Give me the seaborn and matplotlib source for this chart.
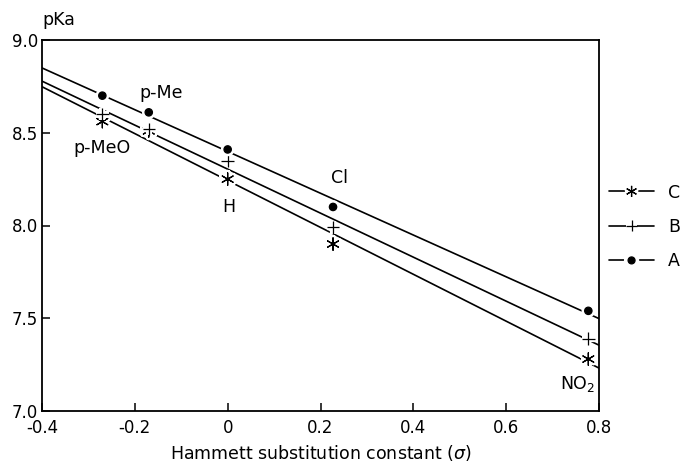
import matplotlib
matplotlib.use('Agg')
import pandas as pd
import matplotlib.pyplot as plt
import matplotlib.patheffects as pe
from matplotlib.lines import Line2D
from matplotlib.legend_handler import HandlerTuple
import seaborn as sns

#-------------------------------------------------------------------------

# Hammett sigma of the substituents and pKa values of the three series
sigma = [-0.27, -0.17, 0.0, 0.227, 0.777]
pka_a = [8.70, 8.61, 8.41, 8.10, 7.54]
pka_b = [8.60, 8.52, 8.35, 7.99, 7.39]
pka_c = [8.56, 8.51, 8.25, 7.90, 7.28]

substituents = ['p-MeO', 'p-Me', 'H', 'Cl', 'NO$_2$']
series_names = ['C', 'B', 'A']

xticks = [-0.4, -0.2, 0.0, 0.2, 0.4, 0.6, 0.8]
xtick_labels = ['-0.4', '-0.2', '0', '0.2', '0.4', '0.6', '0.8']
yticks = [7.0, 7.5, 8.0, 8.5, 9.0]
ytick_labels = ['7.0', '7.5', '8.0', '8.5', '9.0']

#-------------------------------------------------------------------------

def main():

    sns.set_style('ticks')
    plt.rcParams['font.family'] = ['DejaVu Sans']
    plt.rcParams['text.color'] = 'black'
    plt.rcParams['axes.labelcolor'] = 'black'

    data = pd.DataFrame({
        'sigma': sigma * 3,
        'pKa': pka_c + pka_b + pka_a,
        'series': [s for s in series_names for _ in sigma],
    })

    markers = {'C': (6, 2, 0), 'B': '+', 'A': 'o'}
    sizes = {'C': 80, 'B': 80, 'A': 28}
    halo = [pe.withStroke(linewidth=4.5, foreground='white')]

    fig = plt.figure(figsize=(6.8, 4.66), dpi=100)
    ax = fig.add_axes([42 / 680, 1 - 411 / 466, 557 / 680, 371 / 466])

    # limits first, so the fitted lines run across the whole box
    ax.set_xlim(-0.4, 0.8)
    ax.set_ylim(7.0, 9.0)

    for name in series_names:
        sub = data[data['series'] == name]
        sns.regplot(data=sub, x='sigma', y='pKa', ax=ax, ci=None, truncate=False,
                    scatter=False, line_kws=dict(color='black', lw=1.2, zorder=2))
        sns.scatterplot(data=sub, x='sigma', y='pKa', ax=ax, marker=markers[name],
                        s=sizes[name], color='black', edgecolor='black',
                        linewidth=0.9, zorder=3, legend=False, path_effects=halo)

    # substituent labels, anchored on a point of one series
    anchors = [pka_c, pka_a, pka_c, pka_a, pka_c]
    offsets = [(0, -19), (9, 14), (1, -20), (5, 21), (-8, -18)]
    for i, text in enumerate(substituents):
        ax.annotate(text, xy=(sigma[i], anchors[i][i]), xytext=offsets[i],
                    textcoords='offset points', ha='center', va='center', fontsize=12.5)

    ax.set_xticks(xticks)
    ax.set_xticklabels(xtick_labels)
    ax.set_yticks(yticks)
    ax.set_yticklabels(ytick_labels)
    ax.tick_params(direction='in', length=6, width=1.1, labelsize=12, colors='black')
    ax.tick_params(axis='x', pad=6)
    ax.tick_params(axis='y', pad=3)
    for spine in ax.spines.values():
        spine.set_linewidth(1.3)
        spine.set_color('black')

    ax.set_xlabel('Hammett substitution constant ($\\sigma$)', fontsize=12.5, labelpad=4)
    ax.set_ylabel('')
    ax.text(0, 1.03, 'pKa', transform=ax.transAxes, ha='left', va='bottom', fontsize=12.5)

    # legend: short line with the marker sitting in a gap
    handles = []
    for name in series_names:
        line = Line2D([], [], color='black', lw=1.2)
        mark = Line2D([], [], color='black', ls='none', marker=markers[name],
                      markersize=8 if name != 'A' else 5, markeredgewidth=0.9,
                      path_effects=[pe.withStroke(linewidth=6, foreground='white')])
        handles.append((line, mark))
    fig.legend(handles, series_names, loc='center left', bbox_to_anchor=(609 / 680, 1 - 227 / 466),
               frameon=False, fontsize=12.5, handlelength=2.6, handletextpad=0.8,
               labelspacing=0.95, borderpad=0, borderaxespad=0,
               handler_map={tuple: HandlerTuple(ndivide=1)})

    fig.savefig('out.png', dpi=100)

#-------------------------------------------------------------------------

if __name__ == '__main__':
    main()
